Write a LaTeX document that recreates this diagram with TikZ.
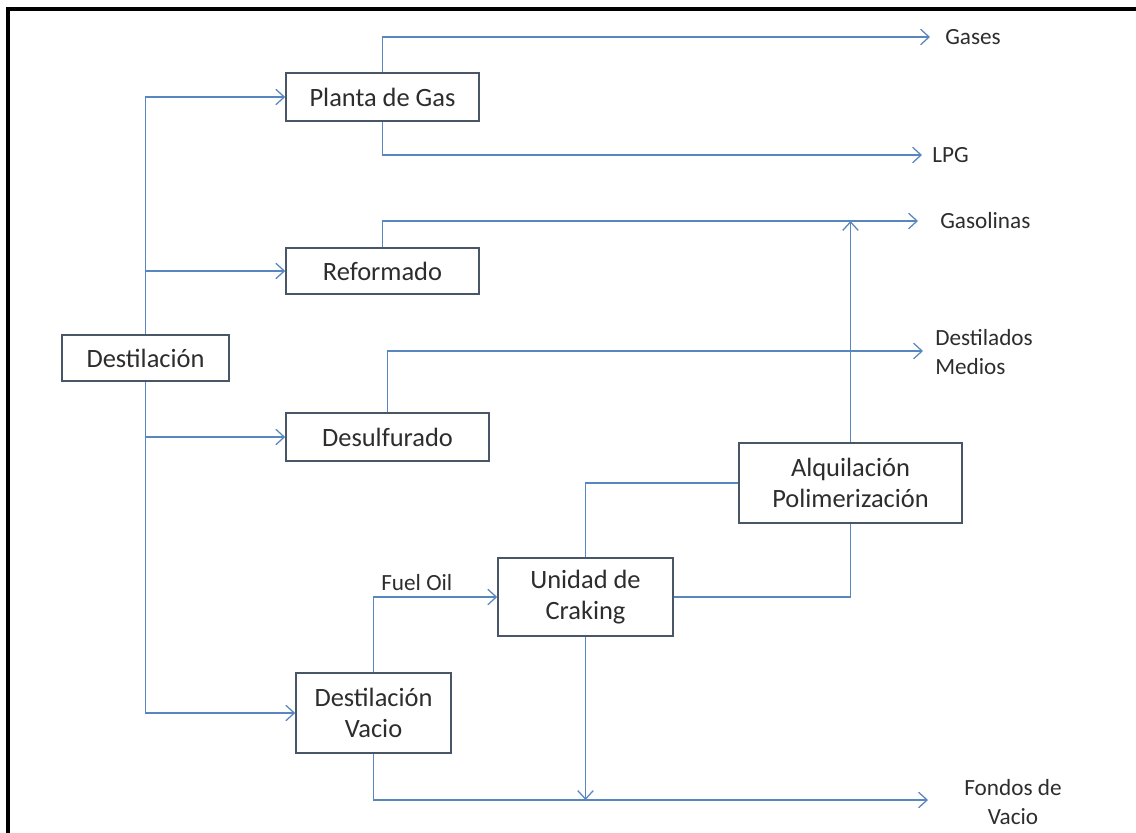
\documentclass[tikz,border=0pt]{standalone}
\usepackage{fontspec}
\setmainfont{Carlito}
\usetikzlibrary{arrows.meta}

\definecolor{flowblue}{RGB}{88,134,190}
\definecolor{boxedge}{RGB}{72,86,104}
\definecolor{inkgrey}{RGB}{45,45,45}

\tikzset{
    unit/.style={draw=boxedge, line width=1.1pt, fill=white, text=inkgrey,
        align=center, inner sep=0pt, font=\fontsize{18.8}{22.5}\selectfont},
    product/.style={text=inkgrey, inner sep=0pt, font=\fontsize{16.5}{20.6}\selectfont},
    flow/.style={draw=flowblue, line width=0.9pt},
    feed/.style={flow, -{Straight Barb[length=6pt,width=11pt]}},
}

\begin{document}
\begin{tikzpicture}[x=0.025cm, y=-0.025cm]

    \useasboundingbox (0,0) rectangle (1136,833);
    \clip (0,0) rectangle (1136,833);

    % Frame
    \draw[line width=2.2pt] (8,9) rectangle (1170,870);

    %% Process units

    \node[unit, minimum width=4.175cm, minimum height=1.15cm] (dest) at (145.5,358) {Destilación};
    \node[unit, minimum width=4.825cm, minimum height=1.2cm] (planta) at (382.5,97) {Planta de Gas};
    \node[unit, minimum width=4.825cm, minimum height=1.15cm] (reform) at (382.5,271) {Reformado};
    \node[unit, minimum width=5.075cm, minimum height=1.2cm] (desulf) at (387.5,437) {Desulfurado};
    \node[unit, minimum width=5.575cm, minimum height=2cm] (alq) at (850.5,483) {Alquilación\\Polimerización};
    \node[unit, minimum width=4.375cm, minimum height=1.95cm] (crak) at (585.5,597) {Unidad de\\Craking};
    \node[unit, minimum width=3.875cm, minimum height=2cm] (vacio) at (373.5,713) {Destilación\\Vacio};

    %% Products

    \coordinate (gasesTip) at (930,37);
    \coordinate (lpgTip) at (922,155);
    \coordinate (gasolTip) at (918,221);
    \coordinate (medTip) at (923,351);
    \coordinate (fondTip) at (928,800);

    \node[product, anchor=west] (gases) at (945,37) {Gases};
    \node[product, anchor=west] (lpg) at (932,155) {LPG};
    \node[product, anchor=west] (gasol) at (940,221) {Gasolinas};
    \node[product, anchor=west, align=left] (medios) at (935,352) {Destilados\\Medios};
    \node[product, align=center] (fondos) at (1013,802) {Fondos de\\Vacio};

    %% Feeds from Destilación

    \draw[feed] (dest.north) |- (planta.west);
    \draw[feed] (dest.north) |- (reform.west);
    \draw[feed] (dest.south) |- (desulf.west);
    \draw[feed] (dest.south) |- (vacio.west);

    %% Streams to products

    \draw[feed] (planta.north) |- (gasesTip);
    \draw[feed] (planta.south) |- (lpgTip);
    \draw[feed] (reform.north) |- (gasolTip);
    \draw[feed] (alq.north) -- (alq.north |- gasolTip);
    \draw[feed] (desulf.north) |- (medTip);
    \draw[feed] (vacio.south) |- (fondTip);
    \draw[feed] (crak.south) -- (crak.south |- fondTip);

    %% Cracking and alkylation

    \draw[feed] (vacio.north) |- (crak.west)
        node[pos=0.675, above=4pt, product] (fuel) {Fuel Oil};
    \draw[flow] (crak.north) |- (alq.west);
    \draw[flow] (crak.east) -| (alq.south);

\end{tikzpicture}
\end{document}
